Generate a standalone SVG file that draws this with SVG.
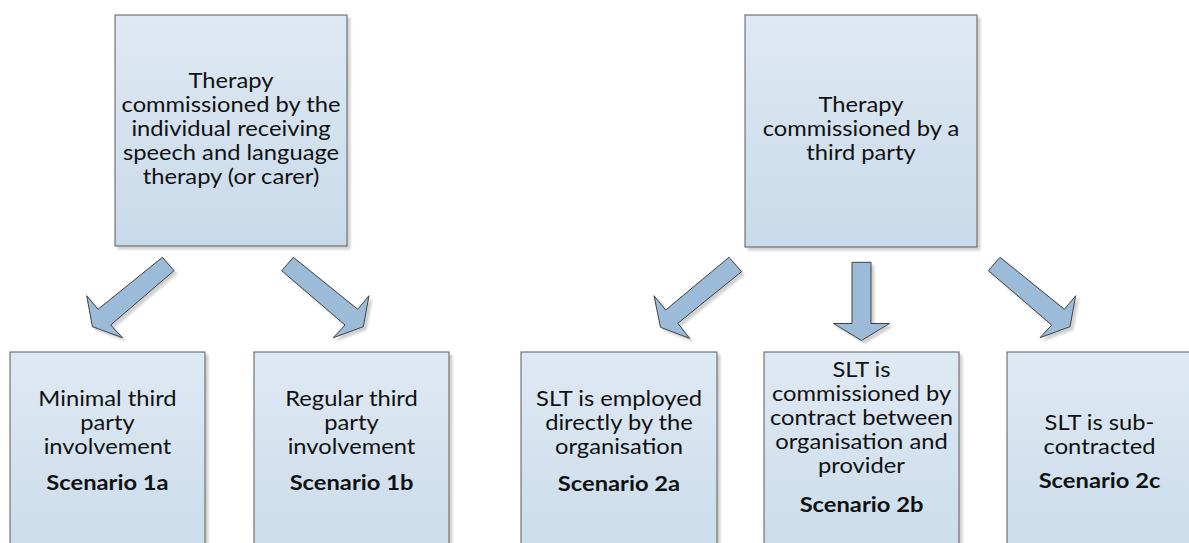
<svg xmlns="http://www.w3.org/2000/svg" width="1189" height="543" viewBox="0 0 1189 543">
<defs>
<linearGradient id="boxg" x1="0" y1="0" x2="0" y2="1">
<stop offset="0" stop-color="#dfe9f3"/>
<stop offset="1" stop-color="#c8daea"/>
</linearGradient>
<filter id="sh" x="-10%" y="-10%" width="130%" height="130%">
<feDropShadow dx="3" dy="3" stdDeviation="1.2" flood-color="#000" flood-opacity="0.18"/>
</filter>
</defs>
<style>
.box{fill:url(#boxg);stroke:#5a5a5a;stroke-width:1;filter:url(#sh)}
.arr{fill:#9bbbd9;stroke:#404040;stroke-width:1;stroke-linejoin:miter;filter:url(#sh)}
text{font-family:Lato,"Open Sans","Liberation Sans",sans-serif;font-size:21px;fill:#111;text-anchor:middle}
.b{font-weight:bold}
</style>
<g id="top1">
<rect class="box" x="115" y="15" width="232" height="231"/>
<g transform="translate(231,0) scale(1.13,1)">
<text x="0" y="88">Therapy</text>
<text x="0" y="112">commissioned by the</text>
<text x="0" y="136">individual receiving</text>
<text x="0" y="160">speech and language</text>
<text x="0" y="184">therapy (or carer)</text>
</g>
</g>
<g id="top2">
<rect class="box" x="745" y="15" width="232" height="232"/>
<g transform="translate(861,0) scale(1.13,1)">
<text x="0" y="112">Therapy</text>
<text x="0" y="136">commissioned by a</text>
<text x="0" y="160">third party</text>
</g>
</g>
<g id="s1a">
<rect class="box" x="10" y="352" width="195" height="231"/>
<g transform="translate(107.5,0) scale(1.13,1)">
<text x="0" y="406">Minimal third</text>
<text x="0" y="430">party</text>
<text x="0" y="454">involvement</text>
<text class="b" x="0" y="490">Scenario 1a</text>
</g>
</g>
<g id="s1b">
<rect class="box" x="254" y="352" width="195" height="231"/>
<g transform="translate(351.5,0) scale(1.13,1)">
<text x="0" y="406">Regular third</text>
<text x="0" y="430">party</text>
<text x="0" y="454">involvement</text>
<text class="b" x="0" y="490">Scenario 1b</text>
</g>
</g>
<g id="s2a">
<rect class="box" x="521" y="352" width="196" height="231"/>
<g transform="translate(619,0) scale(1.13,1)">
<text x="0" y="406">SLT is employed</text>
<text x="0" y="430">directly by the</text>
<text x="0" y="454">organisation</text>
<text class="b" x="0" y="491">Scenario 2a</text>
</g>
</g>
<g id="s2b">
<rect class="box" x="764" y="352" width="195" height="231"/>
<g transform="translate(861.5,0) scale(1.13,1)">
<text x="0" y="377">SLT is</text>
<text x="0" y="401">commissioned by</text>
<text x="0" y="425">contract between</text>
<text x="0" y="449">organisation and</text>
<text x="0" y="473">provider</text>
<text class="b" x="0" y="512">Scenario 2b</text>
</g>
</g>
<g id="s2c">
<rect class="box" x="1007" y="352" width="185" height="231"/>
<g transform="translate(1099.5,0) scale(1.13,1)">
<text x="0" y="430">SLT is sub-</text>
<text x="0" y="454">contracted</text>
<text class="b" x="0" y="488">Scenario 2c</text>
</g>
</g>
<g id="connectors">
<polygon class="arr" points="162.4,257.3 98,309.3 86.7,295.7 92.4,326.7 122.4,337.7 110.7,325 174,270.7"/>
<polygon class="arr" points="293.3,257.3 357.7,309.3 369,295.7 363.3,326.7 333.3,337.7 345,325 281.7,270.7"/>
<polygon class="arr" points="729,257.3 665.7,310 654,295.7 660.5,327.3 689.5,338.3 677.8,323.3 741.5,271.7"/>
<polygon class="arr" points="852,262.3 871,262.3 871,323.5 889.5,323.5 861.5,340.5 833.5,323.5 852,323.5"/>
<polygon class="arr" points="1000,257.3 1064.4,309.3 1075.7,295.7 1070,326.7 1040,337.7 1051.7,325 988.4,270.7"/>
</g>
</svg>
